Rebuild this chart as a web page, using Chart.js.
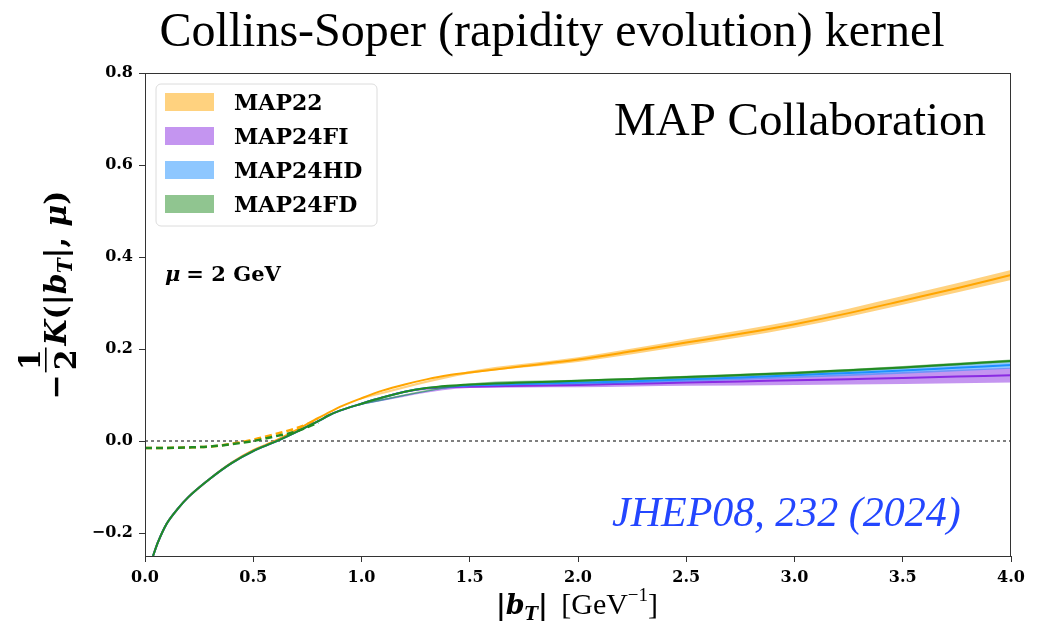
<!DOCTYPE html>
<html>
<head>
<meta charset="utf-8">
<script src="https://cdn.jsdelivr.net/npm/chart.js@4.4.1/dist/chart.umd.min.js"></script>
<style>
  html, body { margin: 0; padding: 0; background: #fff; overflow: hidden; }
  canvas { display: block; }
</style>
</head>
<body>
<canvas id="kernel" width="1038" height="623"></canvas>
<script>
// Valores (bT em GeV^-1, kernel -K/2)
const bSolid = [0.037, 0.06, 0.1, 0.15, 0.2, 0.3, 0.4, 0.5, 0.6, 0.7, 0.8, 0.85, 0.9, 1.0, 1.1, 1.2, 1.3, 1.4, 1.5, 1.75, 2.0, 2.25, 2.5, 2.75, 3.0, 3.25, 3.5, 3.75, 4.0];
const map22 =   [-0.25, -0.22, -0.18, -0.148, -0.122, -0.082, -0.047, -0.020, 0.000, 0.024, 0.050, 0.062, 0.074, 0.093, 0.110, 0.123, 0.134, 0.143, 0.149, 0.163, 0.177, 0.195, 0.214, 0.233, 0.254, 0.278, 0.305, 0.332, 0.361];
const map24FI = [-0.25, -0.22, -0.18, -0.148, -0.122, -0.082, -0.048, -0.022, -0.002, 0.020, 0.043, 0.056, 0.066, 0.081, 0.095, 0.107, 0.114, 0.117, 0.118, 0.120, 0.122, 0.1245, 0.127, 0.1295, 0.132, 0.1345, 0.137, 0.140, 0.143];
const map24HD = [-0.25, -0.22, -0.18, -0.148, -0.122, -0.082, -0.048, -0.022, -0.002, 0.020, 0.043, 0.056, 0.066, 0.081, 0.095, 0.107, 0.115, 0.119, 0.121, 0.124, 0.127, 0.130, 0.134, 0.138, 0.143, 0.148, 0.153, 0.159, 0.165];
const map24FD = [-0.25, -0.22, -0.18, -0.148, -0.122, -0.082, -0.048, -0.022, -0.002, 0.020, 0.043, 0.056, 0.066, 0.081, 0.095, 0.107, 0.115, 0.120, 0.123, 0.127, 0.131, 0.135, 0.139, 0.1435, 0.148, 0.154, 0.160, 0.167, 0.174];

// Faixas de incerteza
const bBand = [1.0, 1.5, 2.0, 2.5, 3.0, 3.5, 4.0];
const map22Lo =   [0.091, 0.146, 0.172, 0.207, 0.246, 0.296, 0.350];
const map22Hi =   [0.095, 0.152, 0.182, 0.221, 0.262, 0.315, 0.372];
const map24FILo = [0.079, 0.115, 0.117, 0.120, 0.122, 0.124, 0.127];
const map24FIHi = [0.083, 0.121, 0.127, 0.134, 0.141, 0.150, 0.159];
const map24HDLo = [0.079, 0.119, 0.123, 0.129, 0.137, 0.146, 0.157];
const map24HDHi = [0.083, 0.123, 0.131, 0.139, 0.149, 0.160, 0.172];
const map24FDLo = [0.079, 0.121, 0.129, 0.136, 0.145, 0.157, 0.171];
const map24FDHi = [0.083, 0.125, 0.133, 0.142, 0.151, 0.163, 0.177];

// Trecho tracejado (pequeno bT)
const bDash = [0, 0.1, 0.2, 0.3, 0.4, 0.5, 0.6, 0.7, 0.8];
const map22Dash =   [-0.015, -0.015, -0.014, -0.012, -0.006, 0.003, 0.015, 0.028, 0.046];
const map24FDDash = [-0.015, -0.015, -0.014, -0.012, -0.007, 0.000, 0.010, 0.021, 0.040];

const xTicks = [0, 0.5, 1.0, 1.5, 2.0, 2.5, 3.0, 3.5, 4.0];
const yTicks = [-0.2, 0.0, 0.2, 0.4, 0.6, 0.8];
const legendNames = ['MAP22', 'MAP24FI', 'MAP24HD', 'MAP24FD'];

const COL = {
    map22: '#ffa500', map22Band: 'rgba(255,165,0,0.5)',
    fi: '#8a2be2', fiBand: 'rgba(138,43,226,0.5)',
    hd: '#1e90ff', hdBand: 'rgba(30,144,255,0.5)',
    fd: '#228b22', fdBand: 'rgba(34,139,34,0.5)'
};

function pts(xs, ys) { return xs.map((x, i) => ({ x: x, y: ys[i] })); }

function line(data, color, order, dash) {
    return { data: data, borderColor: color, borderWidth: dash ? 2.5 : 2, borderDash: dash || [],
             pointRadius: 0, fill: false, cubicInterpolationMode: 'monotone', order: order };
}
function bandHi(data, color, order) {
    return { data: data, borderWidth: 0, pointRadius: 0, backgroundColor: color, fill: '+1',
             cubicInterpolationMode: 'monotone', order: order };
}
function bandLo(data, order) {
    return { data: data, borderWidth: 0, pointRadius: 0, fill: false, cubicInterpolationMode: 'monotone', order: order };
}

const datasets = [
    { data: pts([0, 4], [0, 0]), borderColor: '#000', borderWidth: 1, borderDash: [3, 3], pointRadius: 0, fill: false, order: 20 },
    bandHi(pts(bBand, map22Hi), COL.map22Band, 12), bandLo(pts(bBand, map22Lo), 12),
    line(pts(bDash, map22Dash), COL.map22, 11, [7, 4]),
    line(pts(bSolid, map22), COL.map22, 11),
    bandHi(pts(bBand, map24FIHi), COL.fiBand, 9), bandLo(pts(bBand, map24FILo), 9),
    line(pts(bSolid, map24FI), COL.fi, 8),
    bandHi(pts(bBand, map24HDHi), COL.hdBand, 7), bandLo(pts(bBand, map24HDLo), 7),
    line(pts(bSolid, map24HD), COL.hd, 6),
    bandHi(pts(bBand, map24FDHi), COL.fdBand, 5), bandLo(pts(bBand, map24FDLo), 5),
    line(pts(bDash, map24FDDash), COL.fd, 4, [7, 4]),
    line(pts(bSolid, map24FD), COL.fd, 3)
];

// Desenha uma sequencia de pedacos de texto (fontes diferentes) a partir de x
function drawRun(ctx, pieces, x, y) {
    pieces.forEach(p => {
        if (p.frac) {
            ctx.font = p.font;
            const w = Math.max(ctx.measureText(p.num).width, ctx.measureText(p.den).width) + 4;
            ctx.textAlign = 'center';
            ctx.fillText(p.num, x + w / 2, y - 26);
            ctx.fillText(p.den, x + w / 2, y + 10);
            ctx.fillRect(x, y - 21, w, 1.6);
            ctx.textAlign = 'left';
            x += w + 2;
            return;
        }
        ctx.font = p.font;
        ctx.fillText(p.t, x, y + (p.dy || 0));
        x += ctx.measureText(p.t).width + (p.gap || 0);
    });
    return x;
}
function runWidth(ctx, pieces) {
    let w = 0;
    pieces.forEach(p => {
        ctx.font = p.font;
        if (p.frac) w += Math.max(ctx.measureText(p.num).width, ctx.measureText(p.den).width) + 6;
        else w += ctx.measureText(p.t).width + (p.gap || 0);
    });
    return w;
}

const annotations = {
    id: 'annotations',
    afterDraw(chart) {
        const ctx = chart.ctx;
        const a = chart.chartArea;
        ctx.save();

        // moldura (estilo matplotlib)
        ctx.strokeStyle = '#333';
        ctx.lineWidth = 1;
        ctx.strokeRect(a.left + 0.5, a.top + 0.5, a.right - a.left - 1, a.bottom - a.top);

        ctx.fillStyle = '#000';
        ctx.textBaseline = 'alphabetic';

        // titulo
        ctx.font = '48px "Liberation Serif"';
        ctx.textAlign = 'center';
        ctx.fillText('Collins-Soper (rapidity evolution) kernel', 552, 46);

        ctx.textAlign = 'left';
        ctx.font = '47px "Liberation Serif"';
        ctx.fillText('MAP Collaboration', 614, 135);

        ctx.fillStyle = '#2346ff';
        ctx.font = 'italic 42px "Liberation Serif"';
        ctx.fillText('JHEP08, 232 (2024)', 612, 526);

        ctx.fillStyle = '#000';
        drawRun(ctx, [
            { t: 'μ', font: 'italic bold 21px "DejaVu Serif"', gap: 6 },
            { t: '= 2 GeV', font: 'bold 21px "DejaVu Serif"' }
        ], 165, 281);

        // legenda
        const lx = 156, ly = 84, lw = 221, lh = 142;
        ctx.fillStyle = 'rgba(255,255,255,0.85)';
        ctx.strokeStyle = '#dcdcdc';
        ctx.beginPath();
        ctx.roundRect(lx, ly, lw, lh, 5);
        ctx.fill();
        ctx.stroke();
        const patch = [COL.map22Band, COL.fiBand, COL.hdBand, COL.fdBand];
        legendNames.forEach((name, i) => {
            const cy = 102 + i * 34;
            ctx.fillStyle = patch[i];
            ctx.fillRect(165, cy - 9, 49, 18);
            ctx.fillStyle = '#000';
            ctx.font = 'bold 22px "DejaVu Serif"';
            ctx.fillText(name, 234, cy + 8);
        });

        // eixo y: -1/2 K(|b_T|, mu)
        const B = 'bold 30px "DejaVu Serif"', BI = 'italic bold 30px "DejaVu Serif"', S = 'italic bold 20px "DejaVu Serif"';
        const yLab = [
            { t: '−', font: B, gap: 2 },
            { frac: true, num: '1', den: '2', font: B },
            { t: 'K', font: BI },
            { t: '(|', font: B },
            { t: 'b', font: BI },
            { t: 'T', font: S, dy: 6 },
            { t: '|, ', font: B },
            { t: 'μ', font: BI },
            { t: ')', font: B }
        ];
        ctx.save();
        ctx.translate(66, 295);
        ctx.rotate(-Math.PI / 2);
        drawRun(ctx, yLab, -runWidth(ctx, yLab) / 2, 0);
        ctx.restore();

        // eixo x: |b_T| [GeV^-1]
        const XB = 'bold 27px "DejaVu Serif"';
        const R = '30px "Liberation Serif"';
        const xLab = [
            { t: '|', font: XB },
            { t: 'b', font: 'italic bold 27px "DejaVu Serif"' },
            { t: 'T', font: 'italic bold 18px "DejaVu Serif"', dy: 6 },
            { t: '| ', font: XB, gap: 4 },
            { t: '[GeV', font: R },
            { t: '−1', font: '19px "Liberation Serif"', dy: -13 },
            { t: ']', font: R }
        ];
        drawRun(ctx, xLab, 577 - runWidth(ctx, xLab) / 2, 614);

        ctx.restore();
    }
};

const tickFont = { family: '"DejaVu Serif"', size: 16, weight: 'bold' };
const fmt = v => (Math.abs(v) < 1e-9 ? 0 : v).toFixed(1).replace('-', '−');

new Chart(document.getElementById('kernel'), {
    type: 'line',
    data: { datasets: datasets },
    options: {
        responsive: false,
        animation: false,
        devicePixelRatio: 1,
        layout: { padding: { left: 0, right: 27, top: 73, bottom: 0 } },
        plugins: { legend: { display: false }, tooltip: { enabled: false }, title: { display: false } },
        scales: {
            x: {
                type: 'linear', min: 0, max: 4,
                afterBuildTicks: ax => { ax.ticks = xTicks.map(v => ({ value: v })); },
                afterFit: ax => { ax.height = 67; },
                ticks: { font: tickFont, color: '#000', padding: 6, maxRotation: 0, callback: fmt },
                grid: { display: true, drawOnChartArea: false, drawTicks: true, tickLength: 6, color: '#333' },
                border: { display: true, color: '#333' }
            },
            y: {
                type: 'linear', min: -0.25, max: 0.8,
                afterBuildTicks: ax => { ax.ticks = yTicks.map(v => ({ value: v })); },
                afterFit: ax => { ax.width = 145; },
                ticks: { font: tickFont, color: '#000', padding: 6, callback: fmt },
                grid: { display: true, drawOnChartArea: false, drawTicks: true, tickLength: 6, color: '#333' },
                border: { display: true, color: '#333' }
            }
        }
    },
    plugins: [annotations]
});
</script>
</body>
</html>
